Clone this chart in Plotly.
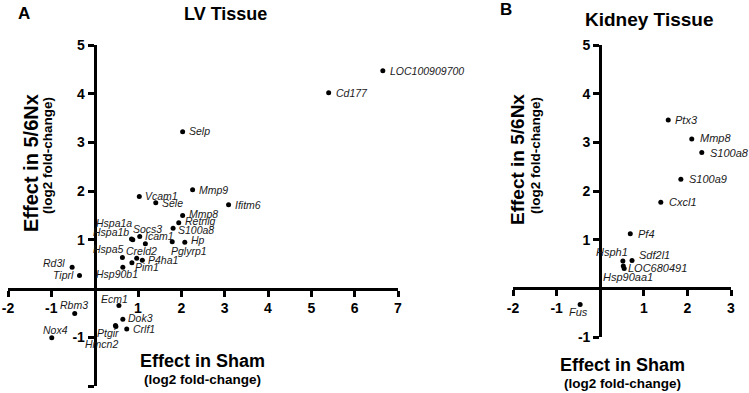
import plotly.graph_objects as go

# ---------------- data ----------------
lv_genes = ["LOC100909700", "Cd177", "Selp", "Mmp9", "Ifitm6", "Vcam1", "Sele",
            "Mmp8", "Retnlg", "S100a8", "Hp", "Pglyrp1", "Hspa1a", "Hspa1b",
            "Socs3", "Icam1", "Hspa5", "Creld2", "P4ha1", "Pim1", "Hsp90b1",
            "Rd3l", "Tiprl", "Rbm3", "Nox4", "Ecm1", "Dok3", "Ptgir", "Hmcn2", "Crlf1"]
lv_sham = [6.65, 5.40, 2.03, 2.26, 3.09, 1.03, 1.41,
           2.03, 1.94, 1.81, 2.08, 1.79, 0.85, 0.88,
           1.17, 1.04, 0.64, 0.97, 1.10, 0.86, 0.65,
           -0.52, -0.35, -0.46, -0.99, 0.56, 0.65, 0.48, 0.49, 0.74]
lv_nx = [4.47, 4.02, 3.22, 2.03, 1.72, 1.89, 1.76,
         1.50, 1.35, 1.24, 0.95, 0.96, 1.02, 1.00,
         0.92, 1.07, 0.64, 0.62, 0.58, 0.53, 0.44,
         0.44, 0.27, -0.51, -1.01, -0.35, -0.63, -0.76, -0.78, -0.83]

kid_genes = ["Ptx3", "Mmp8", "S100a8", "S100a9", "Cxcl1", "Pf4", "Sdf2l1",
             "Hsph1", "LOC680491", "Hsp90aa1", "Fus"]
kid_sham = [1.56, 2.10, 2.33, 1.85, 1.39, 0.69, 0.73, 0.52, 0.53, 0.55, -0.46]
kid_nx = [3.46, 3.07, 2.79, 2.24, 1.77, 1.12, 0.57, 0.56, 0.46, 0.41, -0.33]

lv_xticks = [-2, -1, 1, 2, 3, 4, 5, 6, 7]
lv_xlabels = ["-2", "-1", "1", "2", "3", "4", "5", "6", "7"]
lv_yticks = [-2, -1, 1, 2, 3, 4, 5]
lv_ylabels = ["-2", "-1", "1", "2", "3", "4", "5"]
kid_xticks = [-2, -1, 1, 2, 3]
kid_xlabels = ["-2", "-1", "1", "2", "3"]
kid_yticks = [-1, 1, 2, 3, 4, 5]
kid_ylabels = ["-1", "1", "2", "3", "4", "5"]

# ---------------- label placement (style) ----------------
lv_place = {
    "LOC100909700": ("left", 5, 0), "Cd177": ("left", 5, 0), "Selp": ("left", 4, 1),
    "Mmp9": ("left", 4, 0), "Ifitm6": ("left", 4, 0), "Vcam1": ("left", 4, 1),
    "Sele": ("left", 4, 0), "Mmp8": ("left", 4, 2), "Retnlg": ("left", 4, 2),
    "S100a8": ("left", 3, -2), "Hp": ("left", 4, 2), "Pglyrp1": ("left", -3, -9),
    "Hspa1a": ("right", 2, 16), "Hspa1b": ("right", -2, 8), "Socs3": ("center", 2, 15),
    "Icam1": ("left", 3, 0), "Hspa5": ("right", 4, 8), "Creld2": ("center", 5, 7),
    "P4ha1": ("left", 4, 0), "Pim1": ("left", 1, -4), "Hsp90b1": ("center", -6, -7),
    "Rd3l": ("right", -5, 4), "Tiprl": ("right", -4, 0), "Rbm3": ("center", -1, 8),
    "Nox4": ("center", 4, 8), "Ecm1": ("center", -4, 7), "Dok3": ("left", 3, 1),
    "Ptgir": ("right", 6, -7), "Hmcn2": ("right", 4, -17), "Crlf1": ("left", 4, 0),
}
kid_place = {
    "Ptx3": ("left", 5, 0), "Mmp8": ("left", 6, 1), "S100a8": ("left", 6, 0),
    "S100a9": ("left", 6, 0), "Cxcl1": ("left", 6, 0), "Pf4": ("left", 6, 0),
    "Sdf2l1": ("left", 5, 6), "Hsph1": ("right", 7, 9), "LOC680491": ("left", 3, -2),
    "Hsp90aa1": ("center", 4, -9), "Fus": ("center", -2, -8),
}

W, H = 749, 393
FONT = "Liberation Sans, Arial, sans-serif"


def px(x):
    return x / W


def py(y):
    return 1 - y / H


# domains (paper fractions)
ax_dom = [px(8), px(398)]
ay_dom = [py(386), py(45)]
bx_dom = [px(513), px(731)]
by_dom = [py(337), py(45)]

ax_rng = [-2, 7]
ay_rng = [-2, 5]
bx_rng = [-2, 3]
by_rng = [-1, 5]


def zero_pos(dom, rng):
    return dom[0] + (0 - rng[0]) / (rng[1] - rng[0]) * (dom[1] - dom[0])


fig = go.Figure()
fig.add_trace(go.Scatter(x=lv_sham, y=lv_nx, mode="markers", xaxis="x", yaxis="y",
                         marker=dict(color="black", size=5), showlegend=False,
                         hoverinfo="skip", cliponaxis=False))
fig.add_trace(go.Scatter(x=kid_sham, y=kid_nx, mode="markers", xaxis="x2", yaxis="y2",
                         marker=dict(color="black", size=5), showlegend=False,
                         hoverinfo="skip", cliponaxis=False))

axis_common = dict(showline=True, linewidth=3, linecolor="black", ticks="outside",
                   ticklen=6, tickwidth=3, tickcolor="black", showgrid=False,
                   zeroline=False, anchor="free", automargin=False,
                   tickfont=dict(family=FONT, size=14, color="black", weight="bold"))

annotations = []
for g, xv, yv in zip(lv_genes, lv_sham, lv_nx):
    anc, dx, dy = lv_place[g]
    annotations.append(dict(x=xv, y=yv, xref="x", yref="y", text=g, showarrow=False,
                            xanchor=anc, yanchor="middle", xshift=dx, yshift=dy,
                            font=dict(family=FONT, size=10.5, color="#1a1a1a", style="italic")))
for g, xv, yv in zip(kid_genes, kid_sham, kid_nx):
    anc, dx, dy = kid_place[g]
    annotations.append(dict(x=xv, y=yv, xref="x2", yref="y2", text=g, showarrow=False,
                            xanchor=anc, yanchor="middle", xshift=dx, yshift=dy,
                            font=dict(family=FONT, size=11, color="#1a1a1a", style="italic")))


def ptext(text, x, y, size, angle=0):
    return dict(x=px(x), y=py(y), xref="paper", yref="paper", text=text, showarrow=False,
                xanchor="center", yanchor="middle", textangle=angle,
                font=dict(family=FONT, size=size, color="black", weight="bold"))


annotations += [
    ptext("A", 24, 13, 17),
    ptext("B", 506, 9, 17),
    ptext("LV Tissue", 225, 14, 18),
    ptext("Kidney Tissue", 649, 19, 19),
    ptext("Effect in Sham", 202, 361, 18),
    ptext("(log2 fold-change)", 202, 379, 13.5),
    ptext("Effect in Sham", 622, 365, 18),
    ptext("(log2 fold-change)", 622, 383, 13.5),
    ptext("Effect in 5/6Nx", 31, 163, 20, -90),
    ptext("(log2 fold-change)", 47, 156, 13.5, -90),
    ptext("Effect in 5/6Nx", 517, 160, 19, -90),
    ptext("(log2 fold-change)", 535, 156, 13.5, -90),
]

fig.update_layout(
    width=W, height=H, margin=dict(l=0, r=0, t=0, b=0, pad=0, autoexpand=False),
    paper_bgcolor="white", plot_bgcolor="white",
    xaxis=dict(domain=ax_dom, range=ax_rng, tickvals=lv_xticks, ticktext=lv_xlabels,
               position=zero_pos(ay_dom, ay_rng), **axis_common),
    yaxis=dict(domain=ay_dom, range=ay_rng, tickvals=lv_yticks, ticktext=lv_ylabels,
               position=zero_pos(ax_dom, ax_rng), **axis_common),
    xaxis2=dict(domain=bx_dom, range=bx_rng, tickvals=kid_xticks, ticktext=kid_xlabels,
                position=zero_pos(by_dom, by_rng), **axis_common),
    yaxis2=dict(domain=by_dom, range=by_rng, tickvals=kid_yticks, ticktext=kid_ylabels,
                position=zero_pos(bx_dom, bx_rng), **axis_common),
    annotations=annotations,
    font=dict(family=FONT),
)

fig.write_html("out.html", config={"displayModeBar": False},
               post_script="document.body.style.margin='0';document.body.style.overflow='hidden';")
